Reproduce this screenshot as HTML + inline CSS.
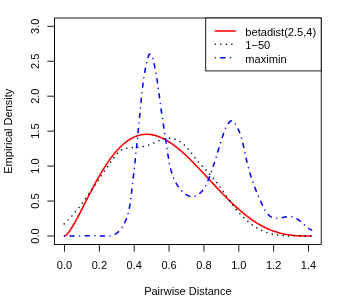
<!DOCTYPE html>
<html><head><meta charset="utf-8"><title>plot</title>
<style>
html,body{margin:0;padding:0;background:#fff;}
body{width:349px;height:303px;overflow:hidden;font-family:"Liberation Sans",sans-serif;}
svg{display:block;will-change:transform;opacity:0.9999;}
text{font-family:"Liberation Sans",sans-serif;font-size:11px;fill:#000;}
.lg{font-size:11.1px;}
</style></head><body>
<svg width="349" height="303" viewBox="0 0 349 303">
<rect x="0" y="0" width="349" height="303" fill="#fff"/>
<polyline points="64.50,236.00 65.32,235.66 66.15,235.04 66.97,234.26 67.80,233.35 68.62,232.33 69.45,231.23 70.27,230.05 71.09,228.80 71.92,227.50 72.74,226.15 73.57,224.75 74.39,223.31 75.22,221.85 76.04,220.35 76.87,218.82 77.69,217.28 78.51,215.71 79.34,214.13 80.16,212.53 80.99,210.93 81.81,209.31 82.64,207.69 83.46,206.06 84.28,204.44 85.11,202.81 85.93,201.18 86.76,199.56 87.58,197.94 88.41,196.32 89.23,194.71 90.06,193.11 90.88,191.52 91.70,189.94 92.53,188.38 93.35,186.82 94.18,185.28 95.00,183.75 95.83,182.24 96.65,180.74 97.47,179.26 98.30,177.80 99.12,176.36 99.95,174.93 100.77,173.53 101.60,172.15 102.42,170.78 103.24,169.44 104.07,168.12 104.89,166.82 105.72,165.54 106.54,164.29 107.37,163.06 108.19,161.85 109.02,160.67 109.84,159.51 110.66,158.38 111.49,157.27 112.31,156.19 113.14,155.13 113.96,154.10 114.79,153.09 115.61,152.11 116.43,151.16 117.26,150.23 118.08,149.33 118.91,148.45 119.73,147.60 120.56,146.78 121.38,145.98 122.21,145.21 123.03,144.47 123.85,143.75 124.68,143.06 125.50,142.40 126.33,141.77 127.15,141.16 127.98,140.57 128.80,140.02 129.62,139.49 130.45,138.98 131.27,138.51 132.10,138.06 132.92,137.63 133.75,137.23 134.57,136.86 135.39,136.51 136.22,136.19 137.04,135.90 137.87,135.63 138.69,135.38 139.52,135.16 140.34,134.97 141.17,134.80 141.99,134.65 142.81,134.53 143.64,134.43 144.46,134.36 145.29,134.30 146.11,134.28 146.94,134.27 147.76,134.29 148.58,134.33 149.41,134.40 150.23,134.49 151.06,134.59 151.88,134.72 152.71,134.88 153.53,135.05 154.36,135.24 155.18,135.46 156.00,135.69 156.83,135.95 157.65,136.22 158.48,136.52 159.30,136.83 160.13,137.16 160.95,137.52 161.77,137.89 162.60,138.27 163.42,138.68 164.25,139.10 165.07,139.54 165.90,140.00 166.72,140.47 167.54,140.96 168.37,141.47 169.19,141.99 170.02,142.53 170.84,143.08 171.67,143.65 172.49,144.23 173.32,144.82 174.14,145.43 174.96,146.05 175.79,146.69 176.61,147.34 177.44,148.00 178.26,148.67 179.09,149.35 179.91,150.05 180.73,150.75 181.56,151.47 182.38,152.20 183.21,152.94 184.03,153.68 184.86,154.44 185.68,155.21 186.51,155.98 187.33,156.76 188.15,157.55 188.98,158.35 189.80,159.16 190.63,159.97 191.45,160.79 192.28,161.62 193.10,162.45 193.92,163.29 194.75,164.14 195.57,164.98 196.40,165.84 197.22,166.70 198.05,167.56 198.87,168.43 199.69,169.30 200.52,170.17 201.34,171.05 202.17,171.93 202.99,172.81 203.82,173.69 204.64,174.58 205.47,175.47 206.29,176.35 207.11,177.24 207.94,178.13 208.76,179.02 209.59,179.91 210.41,180.80 211.24,181.69 212.06,182.58 212.88,183.47 213.71,184.35 214.53,185.24 215.36,186.12 216.18,187.00 217.01,187.88 217.83,188.75 218.66,189.62 219.48,190.49 220.30,191.36 221.13,192.22 221.95,193.08 222.78,193.93 223.60,194.78 224.43,195.62 225.25,196.46 226.07,197.29 226.90,198.12 227.72,198.95 228.55,199.76 229.37,200.57 230.20,201.38 231.02,202.18 231.84,202.97 232.67,203.75 233.49,204.53 234.32,205.30 235.14,206.06 235.97,206.82 236.79,207.57 237.62,208.31 238.44,209.04 239.26,209.76 240.09,210.48 240.91,211.18 241.74,211.88 242.56,212.57 243.39,213.25 244.21,213.92 245.03,214.58 245.86,215.23 246.68,215.87 247.51,216.51 248.33,217.13 249.16,217.74 249.98,218.35 250.81,218.94 251.63,219.52 252.45,220.09 253.28,220.66 254.10,221.21 254.93,221.75 255.75,222.28 256.58,222.80 257.40,223.31 258.22,223.81 259.05,224.30 259.87,224.78 260.70,225.24 261.52,225.70 262.35,226.14 263.17,226.58 263.99,227.00 264.82,227.41 265.64,227.81 266.47,228.21 267.29,228.59 268.12,228.95 268.94,229.31 269.77,229.66 270.59,230.00 271.41,230.32 272.24,230.64 273.06,230.94 273.89,231.24 274.71,231.52 275.54,231.80 276.36,232.06 277.18,232.31 278.01,232.56 278.83,232.79 279.66,233.01 280.48,233.23 281.31,233.43 282.13,233.63 282.96,233.81 283.78,233.99 284.60,234.15 285.43,234.31 286.25,234.46 287.08,234.60 287.90,234.74 288.73,234.86 289.55,234.98 290.37,235.09 291.20,235.19 292.02,235.28 292.85,235.37 293.67,235.45 294.50,235.52 295.32,235.59 296.14,235.65 296.97,235.70 297.79,235.75 298.62,235.79 299.44,235.83 300.27,235.86 301.09,235.89 301.92,235.92 302.74,235.94 303.56,235.95 304.39,235.97 305.21,235.98 306.04,235.99 306.86,235.99 307.69,236.00 308.51,236.00 309.33,236.00 310.16,236.00 310.98,236.00" fill="none" stroke="#ff0000" stroke-width="1.55" stroke-linecap="round" stroke-linejoin="round"/>
<polyline points="64.20,223.92 64.60,223.54 64.99,223.16 65.38,222.78 65.77,222.40 66.16,222.01 66.55,221.62 66.93,221.23 67.32,220.84 67.70,220.45 68.08,220.06 68.45,219.66 68.83,219.27 69.21,218.87 69.58,218.47 69.95,218.07 70.32,217.67 70.69,217.27 71.06,216.87 71.43,216.46 71.79,216.06 72.15,215.65 72.52,215.24 72.88,214.83 73.24,214.42 73.59,214.01 73.95,213.60 74.31,213.18 74.66,212.77 75.01,212.35 75.36,211.93 75.72,211.52 76.06,211.10 76.41,210.68 76.76,210.25 77.10,209.83 77.45,209.41 77.79,208.98 78.13,208.56 78.47,208.13 78.81,207.70 79.15,207.28 79.49,206.85 79.83,206.42 80.16,205.99 80.50,205.55 80.83,205.12 81.16,204.69 81.50,204.25 81.83,203.82 82.16,203.38 82.48,202.95 82.81,202.51 83.14,202.07 83.47,201.63 83.79,201.19 84.12,200.75 84.44,200.31 84.76,199.87 85.08,199.43 85.41,198.98 85.73,198.54 86.05,198.10 86.37,197.65 86.68,197.21 87.00,196.76 87.32,196.31 87.64,195.87 87.95,195.42 88.27,194.97 88.58,194.52 88.90,194.07 89.21,193.63 89.52,193.18 89.83,192.73 90.15,192.27 90.46,191.82 90.77,191.37 91.08,190.92 91.39,190.47 91.70,190.02 92.01,189.56 92.32,189.11 92.63,188.66 92.93,188.20 93.24,187.75 93.55,187.30 93.86,186.84 94.16,186.39 94.47,185.93 94.78,185.48 95.08,185.02 95.39,184.57 95.69,184.11 96.00,183.66 96.30,183.20 96.61,182.75 96.91,182.29 97.22,181.83 97.52,181.38 97.83,180.92 98.13,180.47 98.44,180.01 98.74,179.55 99.04,179.10 99.35,178.64 99.65,178.19 99.96,177.73 100.26,177.28 100.56,176.82 100.87,176.36 101.17,175.91 101.48,175.45 101.78,175.00 102.09,174.54 102.39,174.09 102.70,173.64 103.00,173.18 103.31,172.73 103.61,172.27 103.92,171.82 104.23,171.37 104.53,170.91 104.84,170.46 105.15,170.01 105.45,169.56 105.76,169.11 106.07,168.66 106.38,168.21 106.69,167.75 107.00,167.31 107.31,166.86 107.62,166.41 107.93,165.96 108.24,165.51 108.55,165.06 108.86,164.62 109.17,164.17 109.49,163.72 109.80,163.28 110.11,162.83 110.43,162.39 110.74,161.94 111.06,161.50 111.37,161.06 111.69,160.62 112.01,160.18 112.33,159.74 112.65,159.30 112.97,158.86 113.29,158.42 113.61,157.98 113.93,157.54 114.25,157.11 114.58,156.67 114.90,156.24 115.23,155.81 115.56,155.39 115.90,154.97 116.24,154.56 116.58,154.15 116.92,153.75 117.28,153.36 117.64,152.98 118.00,152.61 118.37,152.25 118.75,151.90 119.14,151.57 119.53,151.25 119.94,150.94 120.35,150.65 120.77,150.38 121.21,150.12 121.65,149.88 122.10,149.66 122.57,149.45 123.04,149.26 123.52,149.09 124.01,148.93 124.51,148.78 125.01,148.64 125.52,148.51 126.04,148.40 126.56,148.29 127.09,148.20 127.62,148.11 128.15,148.03 128.69,147.96 129.23,147.90 129.78,147.84 130.32,147.78 130.87,147.73 131.42,147.68 131.97,147.64 132.52,147.59 133.07,147.55 133.62,147.51 134.17,147.47 134.72,147.43 135.27,147.40 135.82,147.36 136.37,147.32 136.93,147.28 137.48,147.23 138.03,147.19 138.58,147.14 139.13,147.09 139.68,147.03 140.22,146.97 140.77,146.91 141.32,146.84 141.86,146.76 142.41,146.68 142.95,146.60 143.49,146.50 144.04,146.40 144.58,146.29 145.11,146.17 145.65,146.05 146.19,145.91 146.72,145.77 147.25,145.61 147.78,145.45 148.31,145.27 148.83,145.09 149.36,144.90 149.88,144.70 150.40,144.50 150.92,144.28 151.44,144.07 151.95,143.84 152.47,143.62 152.98,143.39 153.50,143.15 154.01,142.92 154.52,142.68 155.03,142.44 155.55,142.21 156.06,141.97 156.56,141.73 157.07,141.50 157.58,141.26 158.09,141.04 158.60,140.81 159.11,140.59 159.61,140.37 160.12,140.16 160.63,139.96 161.14,139.76 161.65,139.57 162.16,139.39 162.67,139.22 163.18,139.06 163.69,138.91 164.20,138.77 164.71,138.64 165.23,138.52 165.74,138.42 166.26,138.33 166.77,138.26 167.29,138.20 167.81,138.15 168.33,138.12 168.85,138.11 169.38,138.12 169.90,138.14 170.42,138.18 170.95,138.23 171.47,138.30 171.99,138.38 172.52,138.48 173.04,138.60 173.55,138.73 174.07,138.87 174.59,139.02 175.10,139.20 175.61,139.38 176.11,139.58 176.61,139.79 177.11,140.01 177.60,140.24 178.09,140.49 178.57,140.75 179.05,141.02 179.52,141.30 179.98,141.59 180.44,141.90 180.90,142.21 181.34,142.53 181.79,142.86 182.22,143.19 182.65,143.54 183.08,143.89 183.50,144.24 183.91,144.60 184.32,144.97 184.72,145.34 185.11,145.72 185.50,146.11 185.89,146.49 186.27,146.89 186.65,147.28 187.02,147.68 187.39,148.09 187.76,148.50 188.12,148.91 188.48,149.32 188.83,149.74 189.19,150.16 189.54,150.59 189.88,151.01 190.23,151.44 190.57,151.87 190.91,152.30 191.25,152.74 191.59,153.17 191.93,153.61 192.26,154.05 192.60,154.49 192.93,154.92 193.27,155.36 193.60,155.80 193.93,156.24 194.27,156.68 194.60,157.12 194.94,157.56 195.28,158.00 195.61,158.44 195.95,158.87 196.29,159.31 196.63,159.74 196.98,160.17 197.32,160.60 197.67,161.02 198.02,161.45 198.38,161.87 198.73,162.29 199.09,162.70 199.45,163.12 199.81,163.53 200.18,163.94 200.54,164.35 200.91,164.76 201.28,165.17 201.65,165.57 202.02,165.97 202.39,166.38 202.76,166.78 203.14,167.18 203.51,167.58 203.89,167.98 204.26,168.37 204.64,168.77 205.02,169.17 205.39,169.56 205.77,169.96 206.15,170.36 206.52,170.75 206.90,171.15 207.28,171.55 207.65,171.94 208.02,172.34 208.40,172.74 208.77,173.14 209.14,173.54 209.51,173.94 209.88,174.34 210.25,174.74 210.61,175.14 210.98,175.55 211.34,175.95 211.70,176.36 212.06,176.77 212.41,177.18 212.76,177.59 213.12,178.00 213.46,178.42 213.81,178.84 214.15,179.26 214.50,179.68 214.84,180.10 215.17,180.52 215.51,180.95 215.84,181.38 216.18,181.80 216.51,182.23 216.84,182.67 217.16,183.10 217.49,183.53 217.81,183.97 218.14,184.40 218.46,184.84 218.78,185.28 219.10,185.72 219.42,186.16 219.73,186.60 220.05,187.04 220.36,187.48 220.68,187.93 220.99,188.37 221.30,188.82 221.62,189.26 221.93,189.71 222.24,190.16 222.55,190.60 222.86,191.05 223.17,191.50 223.48,191.95 223.78,192.40 224.09,192.85 224.40,193.30 224.71,193.74 225.02,194.19 225.33,194.64 225.64,195.09 225.95,195.54 226.25,195.99 226.56,196.44 226.87,196.89 227.18,197.34 227.50,197.79 227.81,198.24 228.12,198.69 228.43,199.14 228.75,199.58 229.06,200.03 229.38,200.48 229.69,200.92 230.01,201.37 230.33,201.81 230.65,202.26 230.97,202.70 231.30,203.14 231.62,203.59 231.95,204.03 232.27,204.47 232.60,204.91 232.93,205.34 233.26,205.78 233.60,206.22 233.93,206.65 234.27,207.08 234.61,207.52 234.95,207.95 235.30,208.38 235.64,208.81 235.99,209.23 236.34,209.66 236.69,210.08 237.05,210.50 237.41,210.92 237.77,211.34 238.13,211.76 238.49,212.17 238.86,212.59 239.23,213.00 239.60,213.41 239.97,213.82 240.34,214.22 240.72,214.62 241.10,215.02 241.48,215.42 241.87,215.82 242.25,216.21 242.64,216.60 243.03,216.99 243.43,217.38 243.82,217.76 244.22,218.14 244.62,218.52 245.02,218.89 245.43,219.27 245.83,219.64 246.24,220.00 246.65,220.37 247.07,220.73 247.48,221.08 247.90,221.44 248.32,221.79 248.74,222.14 249.17,222.48 249.59,222.82 250.02,223.16 250.45,223.49 250.89,223.82 251.32,224.15 251.76,224.47 252.20,224.79 252.65,225.10 253.09,225.41 253.54,225.72 253.99,226.02 254.44,226.32 254.89,226.62 255.35,226.91 255.81,227.19 256.27,227.48 256.73,227.75 257.20,228.03 257.67,228.30 258.14,228.56 258.61,228.82 259.08,229.08 259.56,229.33 260.04,229.57 260.52,229.81 261.00,230.05 261.49,230.28 261.98,230.51 262.47,230.73 262.96,230.95 263.45,231.16 263.95,231.36 264.45,231.56 264.95,231.76 265.46,231.95 265.96,232.13 266.47,232.31 266.98,232.49 267.49,232.65 268.01,232.82 268.53,232.98 269.05,233.13 269.57,233.28 270.09,233.42 270.61,233.56 271.14,233.69 271.67,233.82 272.20,233.95 272.73,234.07 273.26,234.18 273.80,234.29 274.33,234.40 274.87,234.50 275.41,234.60 275.95,234.70 276.49,234.79 277.03,234.87 277.58,234.96 278.12,235.04 278.67,235.11 279.22,235.19 279.76,235.25 280.31,235.32 280.86,235.38 281.41,235.44 281.96,235.50 282.52,235.55 283.07,235.60 283.62,235.65 284.17,235.69 284.73,235.73 285.28,235.77 285.84,235.80 286.39,235.84 286.95,235.87 287.51,235.90 288.06,235.92 288.62,235.95 289.17,235.97 289.73,235.99 290.29,236.00 290.84,236.00 291.40,236.00 291.95,236.00 292.51,236.00 293.06,236.00 293.62,236.00 294.17,236.00 294.73,236.00 295.28,236.00 295.83,236.00 296.39,236.00 296.94,236.00 297.49,236.00 298.04,236.00 298.59,236.00 299.14,236.00 299.69,236.00 300.23,236.00 300.78,236.00 301.32,236.00 301.87,236.00 302.41,236.00 302.95,236.00 303.49,236.00 304.03,236.00 304.57,236.00 305.10,236.00 305.64,236.00 306.17,235.99 306.70,235.99 307.23,235.98 307.76,235.98 308.28,235.97 308.81,235.97 309.33,235.96 309.85,235.96 310.37,235.96 310.89,235.96" fill="none" stroke="#000" stroke-width="1.55" stroke-dasharray="0.01 5.524" stroke-linecap="round" stroke-linejoin="round"/>
<polyline points="64.45,235.96 65.59,236.00 66.71,236.00 67.82,236.00 68.91,236.00 69.99,236.00 71.06,236.00 72.13,236.00 73.18,236.00 74.22,236.00 75.26,236.00 76.29,236.00 77.32,236.00 78.34,236.00 79.37,236.00 80.38,235.99 81.40,235.95 82.42,235.91 83.44,235.87 84.46,235.83 85.48,235.79 86.50,235.76 87.53,235.74 88.57,235.72 89.61,235.71 90.66,235.71 91.72,235.72 92.79,235.75 93.87,235.78 94.96,235.83 96.06,235.89 97.17,235.97 98.29,236.00 99.41,236.00 100.53,236.00 101.65,236.00 102.77,236.00 103.89,236.00 104.99,236.00 106.08,236.00 107.17,236.00 108.23,236.00 109.28,236.00 110.30,235.93 111.30,235.71 112.28,235.45 113.23,235.12 114.14,234.73 115.03,234.28 115.89,233.77 116.71,233.21 117.51,232.60 118.27,231.94 119.01,231.23 119.72,230.48 120.40,229.70 121.05,228.88 121.67,228.02 122.27,227.14 122.84,226.24 123.39,225.31 123.91,224.36 124.40,223.40 124.87,222.42 125.32,221.44 125.74,220.45 126.14,219.46 126.52,218.46 126.87,217.45 127.21,216.45 127.52,215.43 127.82,214.42 128.10,213.40 128.37,212.37 128.62,211.34 128.85,210.31 129.07,209.28 129.28,208.24 129.48,207.21 129.66,206.16 129.84,205.12 130.00,204.08 130.16,203.03 130.32,201.98 130.46,200.93 130.60,199.88 130.74,198.83 130.87,197.78 131.01,196.73 131.14,195.68 131.27,194.63 131.39,193.57 131.52,192.52 131.65,191.47 131.78,190.42 131.90,189.37 132.03,188.31 132.15,187.26 132.28,186.21 132.40,185.16 132.53,184.11 132.65,183.06 132.77,182.00 132.89,180.95 133.01,179.90 133.13,178.85 133.25,177.80 133.37,176.75 133.49,175.69 133.61,174.64 133.73,173.59 133.84,172.54 133.96,171.49 134.08,170.44 134.19,169.38 134.31,168.33 134.42,167.28 134.54,166.23 134.65,165.18 134.77,164.13 134.88,163.08 134.99,162.02 135.11,160.97 135.22,159.92 135.33,158.87 135.44,157.82 135.55,156.77 135.66,155.71 135.77,154.66 135.88,153.61 135.99,152.56 136.10,151.51 136.21,150.46 136.32,149.40 136.43,148.35 136.53,147.30 136.64,146.25 136.75,145.20 136.86,144.14 136.96,143.09 137.07,142.04 137.18,140.99 137.28,139.94 137.39,138.89 137.50,137.83 137.60,136.78 137.71,135.73 137.81,134.68 137.92,133.63 138.02,132.57 138.13,131.52 138.23,130.47 138.34,129.42 138.44,128.36 138.54,127.31 138.65,126.26 138.75,125.21 138.86,124.16 138.96,123.10 139.06,122.05 139.17,121.00 139.27,119.95 139.38,118.89 139.48,117.84 139.58,116.79 139.69,115.74 139.79,114.68 139.89,113.63 140.00,112.58 140.10,111.53 140.20,110.47 140.31,109.42 140.41,108.37 140.51,107.31 140.62,106.26 140.72,105.21 140.82,104.16 140.93,103.10 141.03,102.05 141.14,101.00 141.24,99.94 141.34,98.89 141.45,97.84 141.55,96.78 141.66,95.73 141.77,94.68 141.88,93.62 141.99,92.57 142.10,91.52 142.21,90.47 142.33,89.41 142.45,88.36 142.57,87.31 142.69,86.26 142.82,85.21 142.95,84.15 143.08,83.10 143.22,82.05 143.36,81.00 143.51,79.95 143.66,78.90 143.81,77.85 143.97,76.81 144.14,75.76 144.31,74.71 144.48,73.66 144.66,72.62 144.85,71.57 145.04,70.53 145.24,69.48 145.45,68.44 145.66,67.40 145.88,66.36 146.11,65.31 146.34,64.27 146.59,63.23 146.84,62.20 147.09,61.16 147.36,60.12 147.64,59.08 147.92,58.05 148.21,57.01 148.52,56.01 148.85,55.11 149.23,54.43 149.67,54.05 150.18,54.04 150.74,54.40 151.32,55.04 151.89,55.90 152.42,56.93 152.88,58.05 153.25,59.21 153.55,60.40 153.80,61.59 154.02,62.77 154.22,63.92 154.43,65.04 154.63,66.14 154.83,67.20 155.03,68.25 155.22,69.28 155.42,70.30 155.60,71.31 155.79,72.32 155.97,73.32 156.15,74.33 156.33,75.35 156.50,76.36 156.67,77.39 156.83,78.41 157.00,79.44 157.16,80.47 157.32,81.51 157.48,82.54 157.63,83.58 157.78,84.63 157.93,85.67 158.08,86.72 158.23,87.77 158.38,88.82 158.52,89.87 158.66,90.93 158.81,91.98 158.95,93.04 159.09,94.10 159.23,95.16 159.37,96.22 159.51,97.28 159.65,98.34 159.79,99.40 159.93,100.46 160.06,101.52 160.20,102.58 160.34,103.64 160.48,104.70 160.63,105.75 160.77,106.81 160.91,107.87 161.05,108.92 161.20,109.97 161.35,111.02 161.49,112.07 161.64,113.12 161.79,114.16 161.95,115.21 162.10,116.25 162.25,117.29 162.41,118.33 162.57,119.37 162.72,120.40 162.88,121.44 163.04,122.48 163.20,123.51 163.36,124.55 163.52,125.58 163.68,126.62 163.85,127.65 164.01,128.69 164.17,129.72 164.33,130.75 164.49,131.79 164.66,132.82 164.82,133.86 164.98,134.90 165.14,135.93 165.30,136.97 165.47,138.01 165.63,139.05 165.79,140.09 165.95,141.14 166.10,142.18 166.26,143.23 166.42,144.28 166.58,145.33 166.73,146.38 166.89,147.43 167.04,148.49 167.19,149.55 167.34,150.61 167.50,151.67 167.65,152.73 167.80,153.80 167.96,154.86 168.12,155.93 168.28,156.99 168.45,158.05 168.63,159.11 168.81,160.17 168.99,161.23 169.19,162.29 169.39,163.34 169.60,164.39 169.82,165.43 170.04,166.47 170.28,167.51 170.54,168.54 170.80,169.57 171.08,170.59 171.36,171.60 171.67,172.61 171.99,173.61 172.32,174.60 172.67,175.59 173.04,176.57 173.42,177.54 173.83,178.50 174.25,179.45 174.69,180.39 175.15,181.32 175.64,182.25 176.14,183.16 176.67,184.06 177.22,184.94 177.79,185.82 178.39,186.68 179.02,187.53 179.67,188.37 180.35,189.19 181.05,190.00 181.78,190.79 182.54,191.57 183.33,192.33 184.15,193.06 184.99,193.74 185.85,194.38 186.73,194.95 187.64,195.46 188.56,195.89 189.51,196.24 190.47,196.49 191.44,196.64 192.43,196.67 193.43,196.58 194.44,196.37 195.45,196.02 196.46,195.56 197.46,195.01 198.42,194.38 199.35,193.68 200.24,192.95 201.06,192.18 201.83,191.39 202.55,190.58 203.21,189.75 203.84,188.89 204.42,188.02 204.96,187.13 205.47,186.22 205.96,185.30 206.41,184.36 206.84,183.41 207.26,182.46 207.65,181.49 208.04,180.51 208.42,179.53 208.80,178.54 209.17,177.54 209.55,176.54 209.92,175.54 210.30,174.54 210.67,173.53 211.04,172.52 211.41,171.52 211.77,170.51 212.13,169.50 212.48,168.49 212.83,167.48 213.17,166.48 213.51,165.47 213.84,164.47 214.17,163.47 214.50,162.46 214.82,161.46 215.14,160.46 215.46,159.46 215.77,158.46 216.08,157.46 216.39,156.46 216.70,155.45 217.01,154.45 217.31,153.45 217.62,152.45 217.92,151.45 218.23,150.45 218.53,149.44 218.83,148.44 219.14,147.44 219.44,146.43 219.75,145.42 220.06,144.42 220.37,143.41 220.68,142.40 221.00,141.39 221.32,140.38 221.64,139.36 221.96,138.35 222.29,137.33 222.62,136.31 222.96,135.29 223.30,134.27 223.64,133.24 223.99,132.21 224.36,131.19 224.74,130.17 225.14,129.15 225.58,128.14 226.05,127.14 226.56,126.16 227.11,125.19 227.73,124.24 228.40,123.31 229.13,122.42 229.90,121.63 230.68,121.06 231.45,120.78 232.18,120.85 232.88,121.21 233.55,121.79 234.19,122.52 234.80,123.34 235.38,124.19 235.94,125.06 236.48,125.94 236.99,126.84 237.48,127.75 237.94,128.68 238.39,129.62 238.82,130.57 239.23,131.53 239.62,132.50 239.99,133.48 240.35,134.47 240.69,135.47 241.02,136.48 241.33,137.50 241.63,138.52 241.92,139.55 242.20,140.59 242.47,141.63 242.73,142.68 242.98,143.73 243.23,144.78 243.46,145.84 243.70,146.90 243.92,147.96 244.15,149.02 244.37,150.08 244.58,151.14 244.80,152.20 245.02,153.26 245.24,154.32 245.46,155.37 245.68,156.42 245.90,157.47 246.13,158.51 246.36,159.55 246.60,160.58 246.84,161.61 247.09,162.64 247.34,163.66 247.60,164.67 247.86,165.69 248.12,166.70 248.39,167.70 248.67,168.71 248.95,169.71 249.23,170.71 249.52,171.70 249.81,172.70 250.11,173.69 250.42,174.68 250.73,175.67 251.04,176.65 251.36,177.64 251.69,178.62 252.02,179.60 252.35,180.59 252.69,181.57 253.04,182.55 253.39,183.53 253.74,184.51 254.11,185.49 254.47,186.47 254.85,187.45 255.22,188.43 255.61,189.42 256.00,190.40 256.39,191.39 256.79,192.37 257.20,193.36 257.61,194.35 258.03,195.34 258.45,196.33 258.88,197.33 259.32,198.33 259.76,199.33 260.21,200.33 260.66,201.34 261.12,202.35 261.59,203.36 262.06,204.38 262.54,205.39 263.03,206.40 263.53,207.40 264.05,208.38 264.58,209.35 265.12,210.29 265.69,211.20 266.27,212.08 266.88,212.91 267.51,213.71 268.17,214.46 268.85,215.15 269.56,215.79 270.31,216.37 271.08,216.88 271.89,217.32 272.74,217.69 273.63,217.97 274.55,218.17 275.52,218.29 276.52,218.31 277.56,218.27 278.63,218.16 279.73,218.01 280.84,217.82 281.96,217.61 283.10,217.39 284.24,217.17 285.37,216.97 286.50,216.79 287.61,216.66 288.71,216.58 289.78,216.56 290.83,216.62 291.84,216.77 292.83,216.99 293.79,217.30 294.72,217.67 295.63,218.10 296.52,218.59 297.39,219.14 298.24,219.72 299.08,220.35 299.91,221.00 300.73,221.68 301.55,222.39 302.36,223.10 303.17,223.83 303.98,224.55 304.79,225.27 305.61,225.98 306.44,226.68 307.27,227.35 308.12,227.99 308.98,228.60 309.86,229.16 310.76,229.68 311.68,230.15" fill="none" stroke="#0000ff" stroke-width="1.55" stroke-dasharray="0.01 5.524 4.143 5.524" stroke-linecap="round" stroke-linejoin="round"/>
<rect x="54.5" y="18.0" width="266.7" height="226.5" fill="none" stroke="#000" stroke-width="0.9"/>
<g stroke="#000" stroke-width="0.9" fill="none"><path d="M64.50,244.5 H308.51"/><path d="M64.50,244.5 v7.2"/><path d="M99.36,244.5 v7.2"/><path d="M134.22,244.5 v7.2"/><path d="M169.07,244.5 v7.2"/><path d="M203.93,244.5 v7.2"/><path d="M238.79,244.5 v7.2"/><path d="M273.65,244.5 v7.2"/><path d="M308.51,244.5 v7.2"/><path d="M54.5,236.00 V26.30"/><path d="M54.5,236.00 h-7.2"/><path d="M54.5,201.05 h-7.2"/><path d="M54.5,166.10 h-7.2"/><path d="M54.5,131.15 h-7.2"/><path d="M54.5,96.20 h-7.2"/><path d="M54.5,61.25 h-7.2"/><path d="M54.5,26.30 h-7.2"/></g>
<text x="64.50" y="269.0" text-anchor="middle">0.0</text><text x="99.36" y="269.0" text-anchor="middle">0.2</text><text x="134.22" y="269.0" text-anchor="middle">0.4</text><text x="169.07" y="269.0" text-anchor="middle">0.6</text><text x="203.93" y="269.0" text-anchor="middle">0.8</text><text x="238.79" y="269.0" text-anchor="middle">1.0</text><text x="273.65" y="269.0" text-anchor="middle">1.2</text><text x="308.51" y="269.0" text-anchor="middle">1.4</text><text transform="translate(39.0,236.00) rotate(-90)" text-anchor="middle">0.0</text><text transform="translate(39.0,201.05) rotate(-90)" text-anchor="middle">0.5</text><text transform="translate(39.0,166.10) rotate(-90)" text-anchor="middle">1.0</text><text transform="translate(39.0,131.15) rotate(-90)" text-anchor="middle">1.5</text><text transform="translate(39.0,96.20) rotate(-90)" text-anchor="middle">2.0</text><text transform="translate(39.0,61.25) rotate(-90)" text-anchor="middle">2.5</text><text transform="translate(39.0,26.30) rotate(-90)" text-anchor="middle">3.0</text><text x="187.85" y="295.0" text-anchor="middle">Pairwise Distance</text>
<text transform="translate(12.0,131.25) rotate(-90)" text-anchor="middle">Empirical Density</text>
<rect x="205.7" y="18.0" width="115.5" height="52.900000000000006" fill="#fff" stroke="#000" stroke-width="0.9"/>
<path d="M215.3,30.9 H235.4" stroke="#ff0000" stroke-width="1.55" stroke-linecap="round"/><path d="M215.3,44.3 H235.4" stroke="#000" stroke-width="1.55" stroke-linecap="round" stroke-dasharray="0.01 5.524"/><path d="M215.3,57.7 H235.4" stroke="#0000ff" stroke-width="1.55" stroke-linecap="round" stroke-dasharray="0.01 5.524 4.143 5.524"/>
<text x="245.3" y="35.7" class="lg">betadist(2.5,4)</text><text x="245.3" y="49.1" class="lg">1−50</text><text x="245.3" y="62.5" class="lg">maximin</text>
</svg>
</body></html>
